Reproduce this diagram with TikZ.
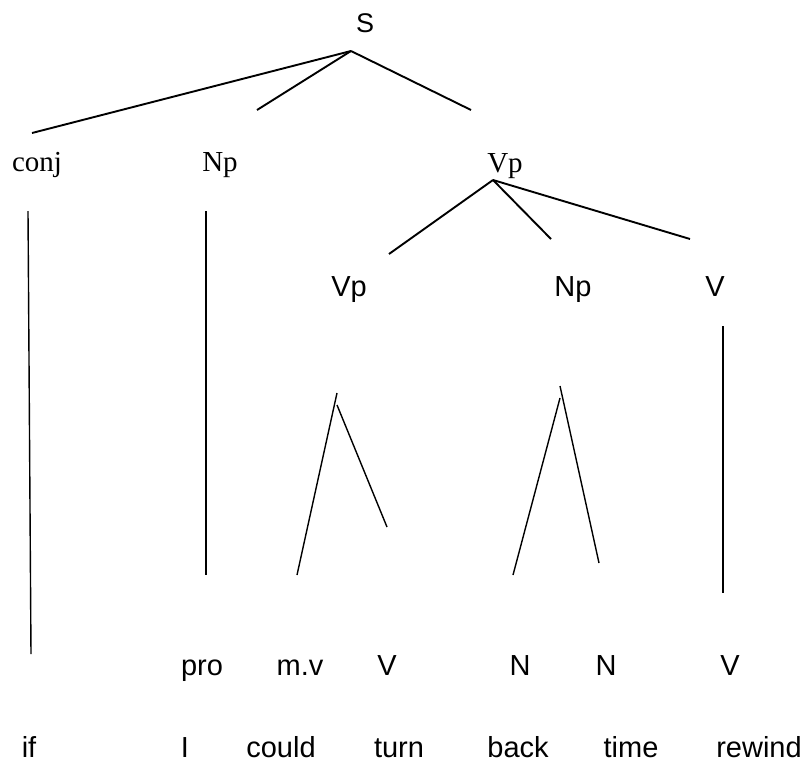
\documentclass[tikz,border=0pt]{standalone}
\usepackage{fontspec}
\setmainfont{Liberation Serif}
\setsansfont{Liberation Sans}
\begin{document}
\begin{tikzpicture}[x=1pt,y=-1pt,
  lbl/.style={anchor=base,inner sep=0pt},
  sf/.style={lbl,font=\sffamily\fontsize{29}{30}\selectfont},
  rm/.style={lbl,font=\rmfamily\fontsize{29}{30}\selectfont},
  thick line/.style={line width=1.9pt,line cap=butt},
  thin line/.style={line width=1.4pt,line cap=butt}]
\useasboundingbox[fill=white] (0,0) rectangle (803,763);
% labels
\node[lbl,font=\sffamily\fontsize{27}{28}\selectfont] (S) at (365,32) {S};
\node[rm] (conj) at (37,171) {conj};
\node[rm] (Np1) at (220,171) {Np};
\node[rm] (Vp1) at (505,172) {Vp};
\node[sf] (Vp2) at (349,296) {Vp};
\node[sf] (Np2) at (573,296) {Np};
\node[sf] (V2) at (715,296) {V};
\node[sf] (pro) at (202,675) {pro};
\node[sf] (mv) at (300,675) {m.v};
\node[sf] (V3) at (387,675) {V};
\node[sf] (N1) at (520,675) {N};
\node[sf] (N2) at (606,675) {N};
\node[sf] (V4) at (730,675) {V};
\node[sf] (w1) at (29,757) {if};
\node[sf] (w2) at (185,757) {I};
\node[sf] (w3) at (281,757) {could};
\node[sf] (w4) at (399,757) {turn};
\node[sf] (w5) at (518,757) {back};
\node[sf] (w6) at (631,757) {time};
\node[sf] (w7) at (759,757) {rewind};
% branch points
\coordinate (sA) at (351,51);
\coordinate (s1) at (32,133);
\coordinate (s2) at (257,110);
\coordinate (s3) at (471,110);
\coordinate (vA) at (493,180);
\coordinate (v1) at (389,254);
\coordinate (v2) at (551,239);
\coordinate (v3) at (690,239);
\coordinate (c1) at (28,211);
\coordinate (c2) at (31,654);
\coordinate (n1) at (206,211);
\coordinate (n2) at (206,575);
\coordinate (a1) at (337,393);
\coordinate (a2) at (297,575);
\coordinate (a3) at (337,405);
\coordinate (a4) at (387,527);
\coordinate (b1) at (560,386);
\coordinate (b2) at (599,563);
\coordinate (b3) at (560,398);
\coordinate (b4) at (513,575);
\coordinate (r1) at (723,326);
\coordinate (r2) at (723,593);
% connectors
\draw[thick line] (sA) -- (s1);
\draw[thick line] (sA) -- (s2);
\draw[thick line] (sA) -- (s3);
\draw[thick line] (vA) -- (v1);
\draw[thick line] (vA) -- (v2);
\draw[thick line] (vA) -- (v3);
\draw[thin line] (c1) -- (c2);
\draw[thin line] (n1) -- (n2);
\draw[thin line] (a1) -- (a2);
\draw[thin line] (a3) -- (a4);
\draw[thin line] (b1) -- (b2);
\draw[thin line] (b3) -- (b4);
\draw[thin line] (r1) -- (r2);
\end{tikzpicture}
\end{document}
